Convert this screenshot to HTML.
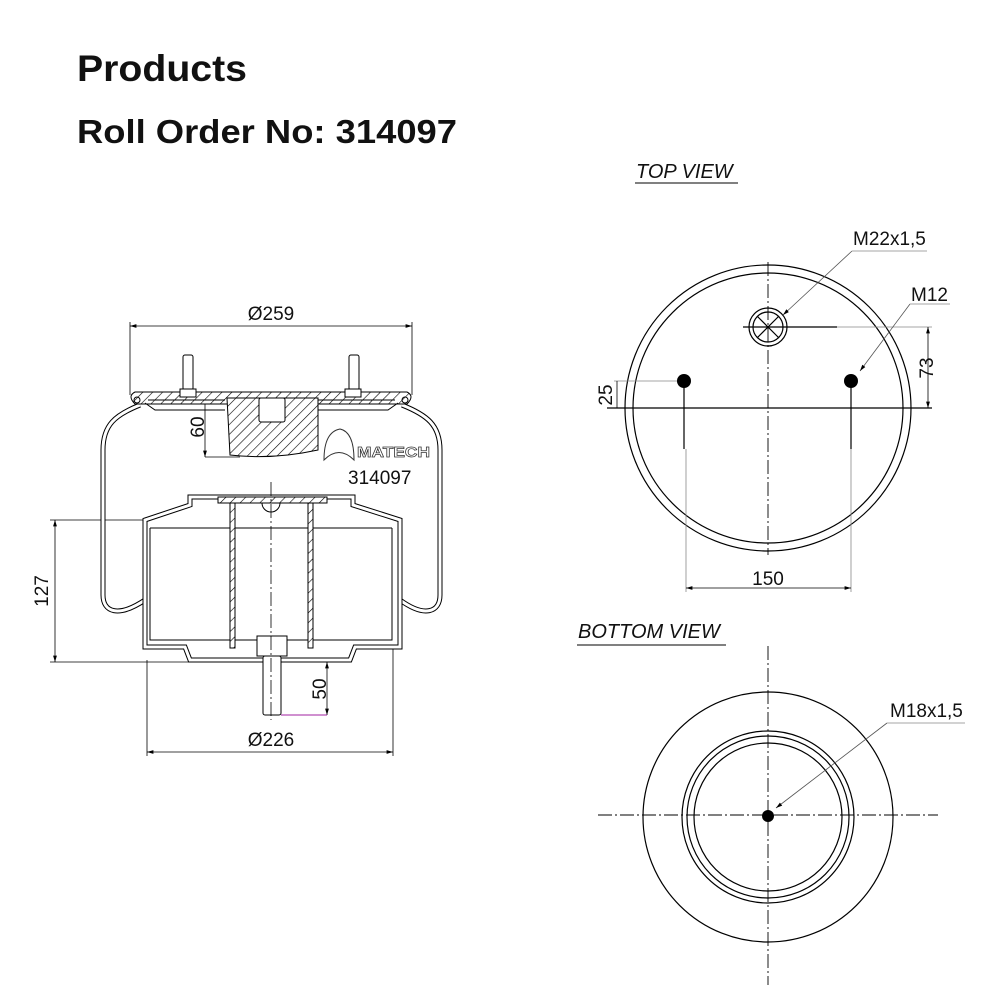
<!DOCTYPE html>
<html><head><meta charset="utf-8"><style>
body{margin:0;background:#fff;}
svg{display:block;}
text{font-family:"Liberation Sans",sans-serif;}
</style></head><body>
<svg width="1000" height="1000" viewBox="0 0 1000 1000" xmlns="http://www.w3.org/2000/svg">
<defs>
<pattern id="h" width="7" height="7" patternUnits="userSpaceOnUse" patternTransform="rotate(45)">
<rect width="7" height="7" fill="#fff"/><line x1="0" y1="0" x2="0" y2="7" stroke="#000" stroke-width="1.2"/>
</pattern>
<marker id="a" viewBox="0 0 10 10" refX="10" refY="5" markerWidth="8" markerHeight="8" orient="auto-start-reverse"><path d="M0,2 L10,5 L0,8z" fill="#000"/></marker>
</defs>
<text x="77" y="81" font-size="37" font-weight="bold" fill="#111" textLength="170" lengthAdjust="spacingAndGlyphs">Products</text>
<text x="77" y="143" font-size="33" font-weight="bold" fill="#111" textLength="380" lengthAdjust="spacingAndGlyphs">Roll Order No: 314097</text>

<!-- LEFT DRAWING -->
<g fill="none" stroke="#000" stroke-width="1">
<line x1="130" y1="326" x2="412" y2="326" marker-start="url(#a)" marker-end="url(#a)" stroke-width="0.8"/>
<line x1="130" y1="322" x2="130" y2="395" stroke-width="0.8"/>
<line x1="412" y1="322" x2="412" y2="395" stroke-width="0.8"/>
<line x1="147" y1="752" x2="393" y2="752" marker-start="url(#a)" marker-end="url(#a)" stroke-width="0.8"/>
<line x1="147" y1="660" x2="147" y2="756" stroke-width="0.8"/>
<line x1="393" y1="620" x2="393" y2="756" stroke-width="0.8"/>
<line x1="55" y1="520" x2="55" y2="662" marker-start="url(#a)" marker-end="url(#a)" stroke-width="0.8"/>
<line x1="50" y1="520" x2="146" y2="520" stroke-width="0.8"/>
<line x1="50" y1="662" x2="200" y2="662" stroke-width="0.8"/>
<line x1="205" y1="398" x2="205" y2="457" marker-start="url(#a)" marker-end="url(#a)" stroke-width="0.8"/>
<line x1="205" y1="457" x2="240" y2="457" stroke-width="0.8"/>
<line x1="327" y1="662" x2="327" y2="715" marker-start="url(#a)" marker-end="url(#a)" stroke-width="0.8"/>
<line x1="281" y1="715" x2="327" y2="715" stroke="#a020a0" stroke-width="1"/>
<path d="M140,405 C115,415 103,425 103,450 L103,595 C103,612 118,618 145,600" stroke="#000" stroke-width="5"/>
<path d="M140,405 C115,415 103,425 103,450 L103,595 C103,612 118,618 145,600" stroke="#fff" stroke-width="3"/>
<path d="M402,405 C427,415 440,425 440,450 L440,595 C440,612 425,618 400,600" stroke="#000" stroke-width="5"/>
<path d="M402,405 C427,415 440,425 440,450 L440,595 C440,612 425,618 400,600" stroke="#fff" stroke-width="3"/>
<path d="M135,392 L407,392 Q415,396 407,404 L135,404 Q127,396 135,392z" fill="url(#h)"/>
<path d="M148,400 L225,400 M318,400 L395,400" />
<circle cx="137" cy="400" r="3"/><circle cx="405" cy="400" r="3"/>
<path d="M145,403 L155,410 L225,410 M318,410 L388,410 L398,403"/>
<rect x="183" y="355" width="10" height="35" rx="2" fill="#fff"/>
<rect x="349" y="355" width="10" height="35" rx="2" fill="#fff"/>
<rect x="180" y="389" width="16" height="8" fill="#fff"/>
<rect x="345" y="389" width="16" height="8" fill="#fff"/>
<path d="M227,398 L318,398 L318,450 Q272,460 230,455 z" fill="url(#h)"/>
<rect x="259" y="398" width="26" height="24" rx="2" fill="#fff"/>
<path d="M145,520 L190,505 L190,497 L353,497 L353,505 L400,520 L400,647 L355,647 L350,660 L190,660 L185,647 L145,647 z" fill="#fff" stroke-width="5"/>
<path d="M145,520 L190,505 L190,497 L353,497 L353,505 L400,520 L400,647 L355,647 L350,660 L190,660 L185,647 L145,647 z" stroke="#fff" stroke-width="3"/>
<path d="M150,528 L392,528 M150,528 L150,640 L392,640 L392,528"/>
<rect x="218" y="497" width="109" height="6" fill="url(#h)"/>
<rect x="230" y="503" width="5" height="145" fill="url(#h)"/>
<rect x="308" y="503" width="5" height="145" fill="url(#h)"/>
<path d="M262,503 A9,9 0 0 0 280,503"/>
<rect x="257" y="636" width="30" height="20" fill="#fff"/>
<rect x="263" y="656" width="18" height="59" rx="2" fill="#fff"/>
<line x1="271" y1="482" x2="271" y2="720" stroke-dasharray="14,3,2,3" stroke-width="0.8"/>
</g>
<g font-size="19" fill="#111">
<text x="271" y="320" text-anchor="middle">Ø259</text>
<text x="271" y="746" text-anchor="middle">Ø226</text>
<text transform="translate(48,591) rotate(-90)" text-anchor="middle">127</text>
<text transform="translate(204,427) rotate(-90)" text-anchor="middle">60</text>
<text transform="translate(326,689) rotate(-90)" text-anchor="middle">50</text>
<text x="348" y="484" font-size="19">314097</text>
<text x="357" y="457" font-size="15" font-weight="bold" fill="none" stroke="#333" stroke-width="0.7" textLength="73" lengthAdjust="spacingAndGlyphs">MATECH</text>
</g>
<path d="M324,460 Q324,432 340,429 Q354,432 354,460 Q339,445 324,460z" fill="none" stroke="#333"/>

<!-- TOP VIEW -->
<text x="636" y="178" font-size="20" font-style="italic" fill="#111">TOP VIEW</text>
<line x1="635" y1="183" x2="738" y2="183" stroke="#000"/>
<g fill="none" stroke="#000" stroke-width="1.2">
<circle cx="768" cy="408" r="143"/>
<circle cx="768" cy="408" r="135"/>
<line x1="768" y1="262" x2="768" y2="555" stroke-dasharray="14,3,2,3" stroke-width="0.9"/>
<line x1="607" y1="408" x2="932" y2="408"/>
<circle cx="768" cy="327" r="19"/><circle cx="768" cy="327" r="15"/>
<path d="M757,316 L779,338 M779,316 L757,338"/>
<line x1="743" y1="327" x2="837" y2="327"/>
<line x1="837" y1="327" x2="932" y2="327" stroke="#888" stroke-width="0.8"/>
<line x1="928" y1="327" x2="928" y2="408" marker-start="url(#a)" marker-end="url(#a)" stroke-width="0.8"/>
<line x1="614" y1="381" x2="684" y2="381" stroke="#888" stroke-width="0.8"/>
<line x1="617" y1="381" x2="617" y2="408" stroke-width="0.8"/>
<line x1="684" y1="381" x2="684" y2="449"/><line x1="851" y1="381" x2="851" y2="449"/>
<line x1="686" y1="449" x2="686" y2="592" stroke="#888" stroke-width="0.8"/>
<line x1="851" y1="449" x2="851" y2="592" stroke="#888" stroke-width="0.8"/>
<line x1="686" y1="588" x2="851" y2="588" marker-start="url(#a)" marker-end="url(#a)" stroke-width="0.8"/>
<line x1="852" y1="251" x2="783" y2="315" marker-end="url(#a)" stroke="#555" stroke-width="0.8"/>
<line x1="852" y1="251" x2="927" y2="251" stroke="#888" stroke-width="0.8"/>
<line x1="910" y1="304" x2="860" y2="371" marker-end="url(#a)" stroke="#555" stroke-width="0.8"/>
<line x1="910" y1="304" x2="950" y2="304" stroke="#888" stroke-width="0.8"/>
</g>
<circle cx="684" cy="381" r="7" fill="#000"/><circle cx="851" cy="381" r="7" fill="#000"/>
<g font-size="19" fill="#111">
<text x="853" y="245">M22x1,5</text>
<text x="911" y="301">M12</text>
<text x="768" y="585" text-anchor="middle">150</text>
<text transform="translate(933,368) rotate(-90)" text-anchor="middle">73</text>
<text transform="translate(612,395) rotate(-90)" text-anchor="middle">25</text>
</g>

<!-- BOTTOM VIEW -->
<text x="578" y="638" font-size="20" font-style="italic" fill="#111">BOTTOM VIEW</text>
<line x1="577" y1="645" x2="726" y2="645" stroke="#000"/>
<g fill="none" stroke="#000" stroke-width="1.2">
<circle cx="768" cy="817" r="125"/>
<circle cx="768" cy="817" r="86"/>
<circle cx="768" cy="817" r="81"/>
<circle cx="768" cy="817" r="74"/>
<line x1="768" y1="646" x2="768" y2="985" stroke-dasharray="14,3,2,3" stroke-width="0.9"/>
<line x1="598" y1="815" x2="938" y2="815" stroke-dasharray="14,3,2,3" stroke-width="0.9"/>
<line x1="887" y1="723" x2="776" y2="808" marker-end="url(#a)" stroke="#555" stroke-width="0.8"/>
<line x1="887" y1="723" x2="965" y2="723" stroke="#888" stroke-width="0.8"/>
</g>
<circle cx="768" cy="816" r="6" fill="#000"/>
<text x="890" y="717" font-size="19" fill="#111">M18x1,5</text>
</svg>
</body></html>
